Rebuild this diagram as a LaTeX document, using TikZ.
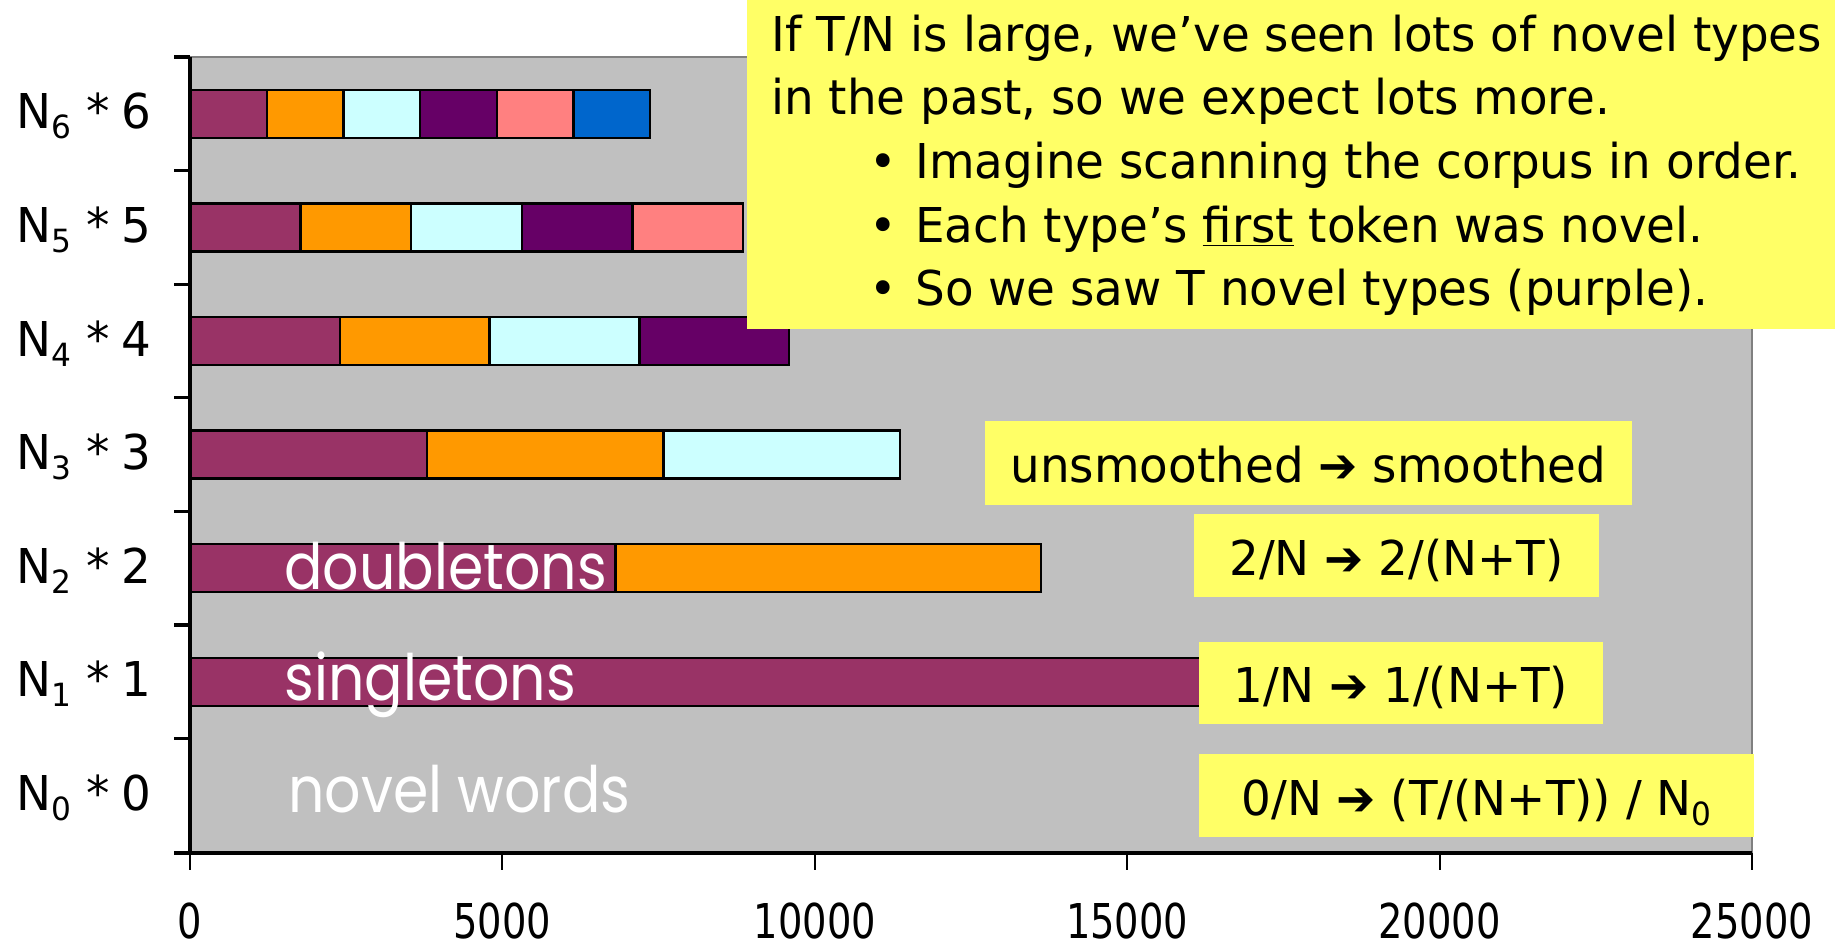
\documentclass[tikz,border=0pt]{standalone}
\usepackage{fontspec}
\setmainfont[FakeStretch=0.975]{DejaVu Sans}
\newfontfamily\tickfont[FakeStretch=0.8]{DejaVu Sans}
\newfontfamily\comicfont[FakeStretch=0.89]{Poppins}
\definecolor{plotgrey}{HTML}{C0C0C0}
\definecolor{notey}{HTML}{FFFF66}
\definecolor{seg1}{HTML}{993366}
\definecolor{seg2}{HTML}{FF9900}
\definecolor{seg3}{HTML}{CCFFFF}
\definecolor{seg4}{HTML}{660066}
\definecolor{seg5}{HTML}{FF8080}
\definecolor{seg6}{HTML}{0066CC}
\newcommand{\goesto}{\textbf{➔}}
\newcommand{\Nsub}[1]{N\raisebox{-5pt}{\fontsize{16}{16}\selectfont #1}}
\begin{document}
\begin{tikzpicture}[x=0.5pt, y=-0.5pt,
  txt/.style={font=\fontsize{24}{28}\selectfont, inner sep=0pt},
  note/.style={fill=notey, inner sep=0pt, text height=19.5pt, text depth=0pt, font=\fontsize{24}{28}\selectfont},
  bar/.style={draw=black, line width=1.2pt},
  axis/.style={black, line width=1.6pt},
  word/.style={white, font=\comicfont\fontsize{32}{36}\selectfont, inner sep=0pt, anchor=base west}]
\useasboundingbox (0,0) rectangle (1835,947);
\fill[plotgrey] (190,57) rectangle (1752,853);
\draw[gray, line width=1pt] (190,57) -- (1752,57) -- (1752,853);
\foreach \n/\w in {6/76.7,5/110.6,4/149.8,3/236.7,2/425.5,1/1062}{
  \pgfmathsetmacro\yc{57+(6.5-\n)*113.6}
  \foreach \j in {1,...,\n}
    \filldraw[bar, fill=seg\j] ({190+(\j-1)*\w},{\yc-24}) rectangle ({190+\j*\w},{\yc+24});
}
\node[word] (dbl) at (284,589) {doubletons};
\node[word] (sgl) at (284,700) {singletons};
\node[word] (nov) at (288,812) {novel words};
\draw[axis] (190,57) -- (190,853);
\draw[axis] (174,853) -- (1752,853);
\foreach \k in {0,...,6}
  \draw[axis] (174,{57+\k*113.6}) -- (190,{57+\k*113.6});
\foreach \n in {0,...,6}
  \node[txt, anchor=base east] (row\n) at (152,{57+(6.5-\n)*113.6+15}) {\Nsub{\n} *\hspace{6pt}\n};
\foreach \k/\v in {0/0,1/5000,2/10000,3/15000,4/20000,5/25000}{
  \draw[axis, line width=1pt] ({190+\k*312.4},853) -- ({190+\k*312.4},870);
  \node[txt, font=\tickfont\fontsize{24}{28}\selectfont, anchor=base] (tick\k) at ({190+\k*312.4},938) {\v};
}
\node[note, minimum width=323.5pt, minimum height=42pt] (sm) at (1308.5,463) {unsmoothed \goesto{} smoothed};
\node[note, minimum width=202.5pt, minimum height=41.5pt] (two) at (1396.5,555.5) {2/N \goesto{} 2/(N+T)};
\node[note, minimum width=202.25pt, minimum height=41pt] (one) at (1401,683) {1/N \goesto{} 1/(N+T)};
\node[note, minimum width=277.5pt, minimum height=41.5pt] (zero) at (1476.5,795.5) {0/N \goesto{} (T/(N+T)) / \Nsub{0}};
\node[fill=notey, inner sep=0pt, minimum width=544pt, minimum height=164.5pt, anchor=north west] (big) at (747,0) {};
\node[txt, anchor=base west] (l1) at (771,52) {If T/N is large, we’ve seen lots of novel types};
\node[txt, anchor=base west] (l2) at (771,115) {in the past, so we expect lots more.};
\node[txt, anchor=base west] (dot1) at (869,178) {•};
\node[txt, anchor=base west] (pt1) at (915,178) {Imagine scanning the corpus in order.};
\node[txt, anchor=base west] (dot2) at (869,242) {•};
\node[txt, anchor=base west] (pt2) at (915,242) {Each type’s \underline{first} token was novel.};
\node[txt, anchor=base west] (dot3) at (869,305) {•};
\node[txt, anchor=base west] (pt3) at (915,305) {So we saw T novel types (purple).};
\end{tikzpicture}
\end{document}
